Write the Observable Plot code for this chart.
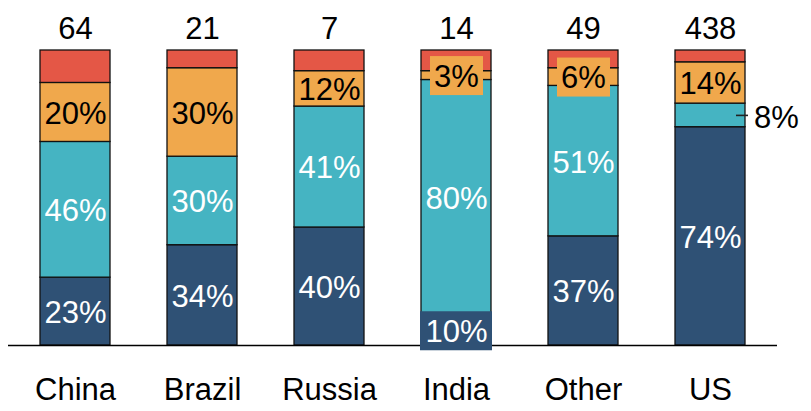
<!DOCTYPE html>
<html>
<head>
<meta charset="utf-8">
<script src="https://cdn.jsdelivr.net/npm/d3@7"></script>
<script src="https://cdn.jsdelivr.net/npm/@observablehq/plot@0.6"></script>
<style>
  body { margin: 0; background: #fff; }
</style>
</head>
<body>
<div id="chart"></div>
<script>
// Categories and the total shown above each bar
const categories = ["China", "Brazil", "Russia", "India", "Other", "US"];
const totals = [64, 21, 7, 14, 49, 438];

// Shares (%) per segment, bottom to top
const baseShare   = [23, 34, 40, 10, 37, 74];
const middleShare = [46, 30, 41, 80, 51, 8];
const upperShare  = [20, 30, 12, 3, 6, 14];
const topShare    = [11, 6, 7, 7, 6, 4];

const seriesKeys = ["base", "middle", "upper", "top"];
const seriesColors = ["#2f5175", "#45b4c2", "#f0a84c", "#e45746"];

// Labels drawn on a filled box, and the one drawn beside its bar
const boxedLabels = [["India", "base"], ["India", "upper"], ["Other", "upper"]];
const outsideLabels = [["US", "middle"]];

const shares = {base: baseShare, middle: middleShare, upper: upperShare, top: topShare};

// Stack the segments of each bar
const rows = [];
categories.forEach((cat, i) => {
  let acc = 0;
  seriesKeys.forEach(key => {
    const v = shares[key][i];
    const y1 = acc, y2 = acc + v;
    acc = y2;
    rows.push({
      cat, series: key, value: v, y1, y2, mid: (y1 + y2) / 2,
      label: key === "top" ? null : `${v}%`,
      boxed: boxedLabels.some(([c, s]) => c === cat && s === key),
      outside: outsideLabels.some(([c, s]) => c === cat && s === key)
    });
  });
});

const labelled = rows.filter(d => d.label && !d.outside);
const boxes = rows.filter(d => d.boxed);
const outside = rows.filter(d => d.outside);
const totalRows = categories.map((cat, i) => ({cat, total: totals[i]}));

const font = "'Liberation Sans', Arial, Helvetica, sans-serif";
const fs = 31;

const chart = Plot.plot({
  width: 811,
  height: 411,
  marginTop: 50,
  marginBottom: 66,
  marginLeft: 8,
  marginRight: 34,
  style: {fontFamily: font, fontSize: `${fs}px`, background: "#fff", color: "#000"},
  x: {domain: categories, paddingInner: 0.445, paddingOuter: 0.227, label: null},
  y: {domain: [0, 100], axis: null},
  color: {domain: seriesKeys, range: seriesColors},
  marks: [
    Plot.barY(rows, {x: "cat", y1: "y1", y2: "y2", fill: "series", stroke: "#111", strokeWidth: 1.3}),
    Plot.ruleY([0], {stroke: "#000", strokeWidth: 1.3}),
    // background boxes for labels on thin segments
    Plot.barY(boxes.filter(d => d.label.length > 2), {
      x: "cat", y1: "mid", y2: "mid", fill: "series",
      insetTop: -19, insetBottom: -20, insetLeft: -1, insetRight: -1
    }),
    Plot.barY(boxes.filter(d => d.label.length <= 2), {
      x: "cat", y1: "mid", y2: "mid", fill: "series",
      insetTop: -19, insetBottom: -20, insetLeft: 9, insetRight: 8
    }),
    // segment labels
    Plot.text(labelled.filter(d => d.series !== "upper"), {
      x: "cat", y: "mid", text: "label", fill: "#fff", fontSize: fs, dy: 1.5
    }),
    Plot.text(labelled.filter(d => d.series === "upper"), {
      x: "cat", y: "mid", text: "label", fill: "#000", fontSize: fs, dy: 1.5
    }),
    // label set beside the bar with a short leader
    Plot.tickY(outside, {x: "cat", y: "mid", stroke: "#222", strokeWidth: 1.6, insetLeft: 61, insetRight: -3}),
    Plot.text(outside, {
      x: "cat", y: "mid", text: "label", fill: "#000", fontSize: fs,
      textAnchor: "start", dx: 43.5, dy: 3
    }),
    // totals above the bars
    Plot.text(totalRows, {x: "cat", y: () => 100, text: d => String(d.total), fill: "#000", fontSize: fs, dy: -21}),
    Plot.axisX({tickSize: 0, tickPadding: 32, fontSize: fs, label: null})
  ]
});

document.getElementById("chart").append(chart);
</script>
</body>
</html>
